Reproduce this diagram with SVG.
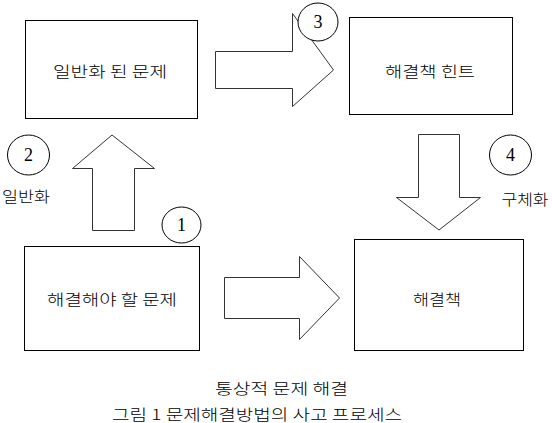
<svg xmlns="http://www.w3.org/2000/svg" width="552" height="423" viewBox="0 0 552 423">
<style>
.box{fill:#fff;stroke:#000;stroke-width:1}
.arr{fill:#fff;stroke:#333;stroke-width:1}
.num{fill:#fff;stroke:#000;stroke-width:1}
text{font-family:"Noto Sans CJK KR","Noto Sans",sans-serif;font-size:15px;font-weight:300;fill:#000;text-anchor:middle;dominant-baseline:central}
.d{font-family:"Liberation Serif",serif;font-size:18px;font-weight:normal}
</style>
<rect width="552" height="423" fill="#fff"/>
<g id="connectors">
<path class="arr" d="M215.5,51.5 H292.5 V13.5 L333.5,70 L292.5,106.5 V88.5 H215.5 Z"/>
<path class="arr" d="M418.5,134.5 H459.5 V197.5 H480.5 L439,230 L396.5,197.5 H418.5 Z"/>
<path class="arr" d="M92.5,230.5 V168.5 H72.5 L112,135 L154.5,168.5 H134.5 V230.5 Z"/>
<path class="arr" d="M224.5,277.5 H299.5 V256.5 L339.5,298 L299.5,339.5 V318.5 H224.5 Z"/>
</g>
<g id="n-general">
<rect class="box" x="25.5" y="20.5" width="172" height="98"/>
<text x="110" y="70" textLength="114" lengthAdjust="spacingAndGlyphs">일반화 된 문제</text>
</g>
<g id="n-hint">
<rect class="box" x="349.5" y="17.5" width="163" height="97"/>
<text x="430" y="70" textLength="90" lengthAdjust="spacingAndGlyphs">해결책 힌트</text>
</g>
<g id="n-problem">
<rect class="box" x="24.5" y="246.5" width="175" height="104"/>
<text x="112" y="298" textLength="130" lengthAdjust="spacingAndGlyphs">해결해야 할 문제</text>
</g>
<g id="n-solution">
<rect class="box" x="354.5" y="239.5" width="169" height="111"/>
<text x="437" y="298" textLength="48" lengthAdjust="spacingAndGlyphs">해결책</text>
</g>
<g id="c1">
<ellipse class="num" cx="181.5" cy="225" rx="19.5" ry="18"/>
<text class="d" x="181.5" y="225">1</text>
</g>
<g id="c2">
<ellipse class="num" cx="28.5" cy="155" rx="21" ry="20"/>
<text class="d" x="28.5" y="155">2</text>
</g>
<g id="c3">
<ellipse class="num" cx="318" cy="22" rx="20" ry="19"/>
<text class="d" x="318" y="22">3</text>
</g>
<g id="c4">
<ellipse class="num" cx="510.5" cy="155" rx="21" ry="20"/>
<text class="d" x="510.5" y="155">4</text>
</g>
<g id="labels">
<text x="26" y="195" textLength="48" lengthAdjust="spacingAndGlyphs">일반화</text>
<text x="525" y="198" textLength="47" lengthAdjust="spacingAndGlyphs">구체화</text>
<text x="281.5" y="387" textLength="133" lengthAdjust="spacingAndGlyphs">통상적 문제 해결</text>
<text x="257" y="413" textLength="290" lengthAdjust="spacingAndGlyphs">그림 1 문제해결방법의 사고 프로세스</text>
</g>
</svg>
